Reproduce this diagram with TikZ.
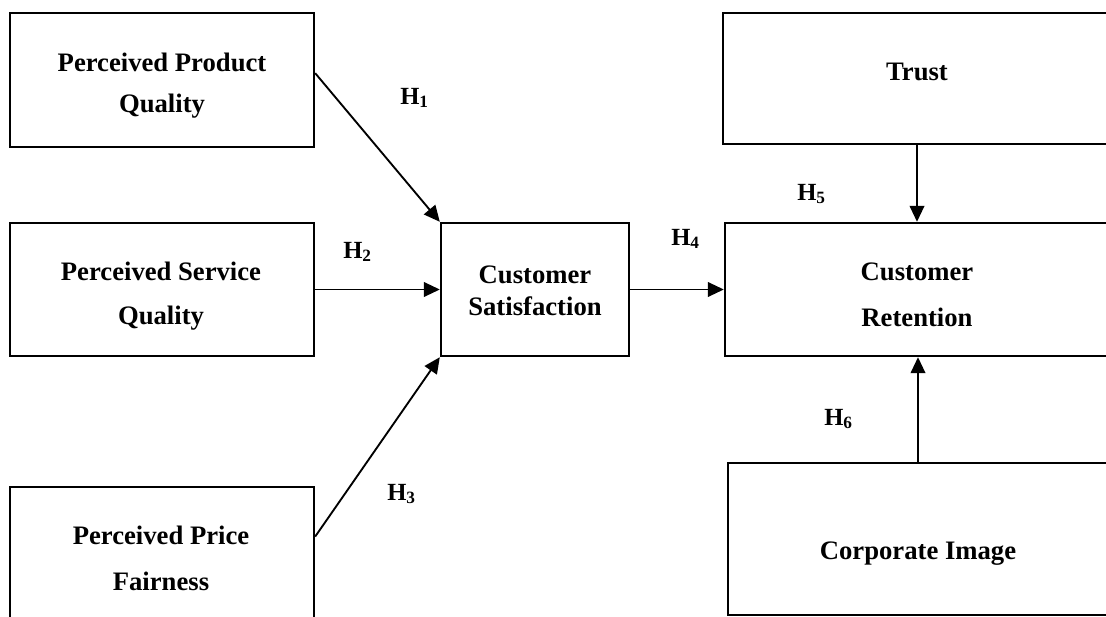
\documentclass[tikz,border=0pt]{standalone}
\usepackage{fontspec}
\setmainfont{Liberation Serif}
\usetikzlibrary{arrows.meta,fit,calc}
\begin{document}
\begin{tikzpicture}[x=0.75pt,y=-0.75pt,
  cbox/.style={draw, line width=1.8pt, inner sep=0pt},
  txt/.style={font=\fontsize{20}{24}\selectfont\bfseries, anchor=base, inner sep=0pt},
  hyp/.style={font=\fontsize{18.5}{22}\selectfont\bfseries, anchor=base west, inner sep=0pt},
  link/.style={line width=1.4pt, -{Triangle[length=12pt,width=11pt]}}]
\useasboundingbox (0,0) rectangle (1106,617);
\fill[white] (0,0) rectangle (1106,617);
\clip (0,0) rectangle (1106,617);

% construct boxes
\node[cbox, fit={(10,13) (314,147)}]    (ppq)   {};
\node[cbox, fit={(10,223) (314,356)}]   (psq)   {};
\node[cbox, fit={(10,487) (314,647)}]   (ppf)   {};
\node[cbox, fit={(441,223) (629,356)}]  (cs)    {};
\node[cbox, fit={(723,13) (1111,144)}]  (trust) {};
\node[cbox, fit={(725,223) (1109,356)}] (cr)    {};
\node[cbox, fit={(728,463) (1108,615)}] (ci)    {};

% box captions
\node[txt] (ppq-a)   at (162,71)  {Perceived Product};
\node[txt] (ppq-b)   at (162,113) {Quality};
\node[txt] (psq-a)   at (161,280) {Perceived Service};
\node[txt] (psq-b)   at (161,324) {Quality};
\node[txt] (ppf-a)   at (161,544) {Perceived Price};
\node[txt] (ppf-b)   at (161,590) {Fairness};
\node[txt] (cs-a)    at (535,283) {Customer};
\node[txt] (cs-b)    at (535,315) {Satisfaction};
\node[txt] (cr-a)    at (917,280) {Customer};
\node[txt] (cr-b)    at (917,326) {Retention};
\node[txt] (trust-a) at (917,80)  {Trust};
\node[txt] (ci-a)    at (918,559) {Corporate Image};

% hypothesised paths
\draw[link] ($(ppq.north east)!0.45!(ppq.south east)$) -- (cs.north west);
\draw[link] (psq.east) -- (cs.west);
\draw[link] ($(ppf.north east)!0.3125!(ppf.south east)$) -- (cs.south west);
\draw[link] (cs.east) -- (cr.west);
\draw[link] (trust.south) -- (cr.north);
\draw[link] (ci.north) -- (ci.north |- cr.south);

% hypothesis labels
\node[hyp] (h1) at (400,104) {H\textsubscript{1}};
\node[hyp] (h2) at (343,258) {H\textsubscript{2}};
\node[hyp] (h3) at (387,500) {H\textsubscript{3}};
\node[hyp] (h4) at (671,245) {H\textsubscript{4}};
\node[hyp] (h5) at (797,200) {H\textsubscript{5}};
\node[hyp] (h6) at (824,425) {H\textsubscript{6}};
\end{tikzpicture}
\end{document}
